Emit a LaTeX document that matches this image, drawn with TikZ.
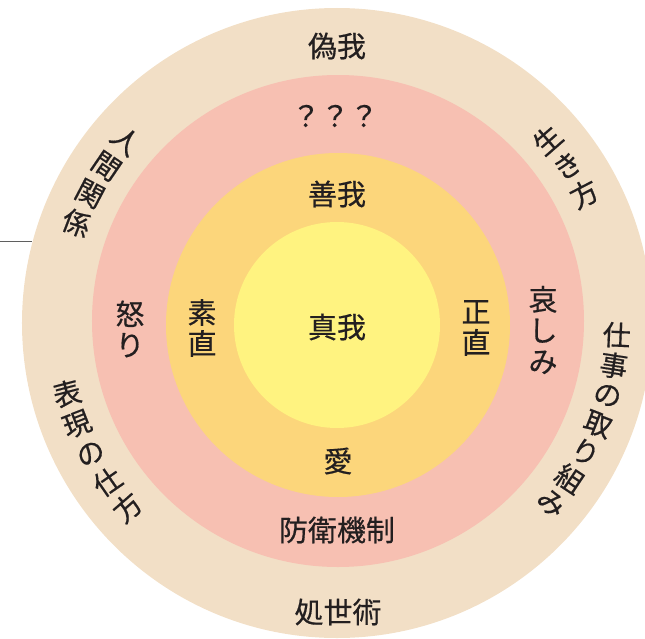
\documentclass[tikz,border=0pt]{standalone}
\usepackage{fontspec}
\setmainfont[FakeBold=0.5]{Noto Sans CJK JP}
\definecolor{ringbeige}{RGB}{242,223,198}
\definecolor{ringpink}{RGB}{247,192,178}
\definecolor{ringgold}{RGB}{252,214,123}
\definecolor{coreyellow}{RGB}{255,243,128}
\definecolor{inkdark}{RGB}{35,31,32}
\definecolor{rulegray}{RGB}{95,95,95}

\begin{document}
\begin{tikzpicture}[x=1pt,y=1pt,
  lbl/.style={text=inkdark,font=\fontsize{29}{31}\selectfont,inner sep=0pt},
  vlbl/.style={lbl,align=center},
  arcch/.style={lbl,font=\fontsize{28}{30}\selectfont}]
\useasboundingbox (-337,-315) rectangle (308,323);
\clip (-337,-315) rectangle (308,323);
% rings
\fill [ringbeige] (0,0) circle (315);
\fill [ringpink] (1,2) circle (246);
\fill [ringgold] (1,-2) circle (172);
\fill [coreyellow] (0,-2) circle (103);
% short rule at the left edge
\coordinate (ruleL) at (-337,82);
\coordinate (ruleR) at (-305,82);
\draw [rulegray, line width=1pt] (ruleL) -- (ruleR);
% horizontal labels
\node[lbl] (gi) at (0,277) {偽我};
\node[lbl] (q) at (-2,207) {？？？};
\node[lbl] (zen) at (0,129) {善我};
\node[lbl] (shin) at (0,-4) {真我};
\node[lbl] (ai) at (1,-138) {愛};
\node[lbl] (bouei) at (0,-207) {防衛機制};
\node[lbl] (shosei) at (1,-289) {処世術};
% vertical labels
\node[vlbl] (sunao) at (-135,-5) {素\\直};
\node[vlbl] (ikari) at (-207,-6) {怒\\り};
\node[vlbl] (shoujiki) at (139,-5) {正\\直};
\node[vlbl] (kanashimi) at (206,-7) {哀\\し\\み};
% labels along the outer ring
\foreach \ch [count=\i] in {人,間,関,係} {
  \pgfmathsetmacro\a{139.2+6.6*(\i-1)}
  \node[arcch,rotate=\a-180] (rel\i) at (\a:279) {\ch};
}
\foreach \ch [count=\i] in {生,き,方} {
  \pgfmathsetmacro\a{41.1-6.75*(\i-1)}
  \node[arcch,rotate=\a] (iki\i) at (\a:279) {\ch};
}
\foreach \ch [count=\i] in {仕,事,の,取,り,組,み} {
  \pgfmathsetmacro\a{-2.45-6.27*(\i-1)}
  \node[arcch,rotate=\a] (work\i) at (\a:280) {\ch};
}
\foreach \ch [count=\i] in {表,現,の,仕,方} {
  \pgfmathsetmacro\a{194.6+6.68*(\i-1)}
  \node[arcch,rotate=\a-180] (expr\i) at (\a:279) {\ch};
}
\end{tikzpicture}
\end{document}
